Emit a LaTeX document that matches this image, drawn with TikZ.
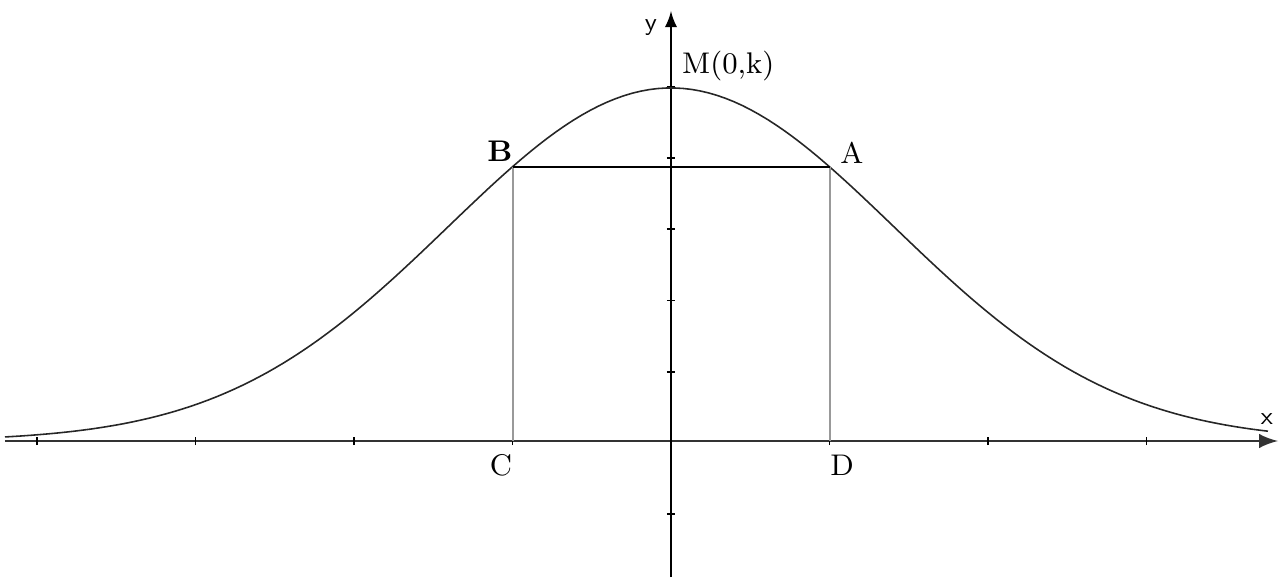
\documentclass[tikz,border=0pt]{standalone}
\usepackage{amsmath}
\usepackage{tikz}
\usetikzlibrary{arrows,positioning,calc}

\begin{document}
\begin{tikzpicture}[
    axis/.style={->, >=latex, line width=0.8pt},
    curve/.style={black!85, line width=0.45pt},
    side/.style={black!40, line width=0.6pt},
    tick/.style={line width=0.5pt},
    lbl/.style={font=\fontsize{8.5}{10}\selectfont, inner sep=1pt},
    axlbl/.style={font=\sffamily\scriptsize, inner sep=1pt}
]
    \useasboundingbox (-6.71,-1.36) rectangle (6.10,4.41);

    % Axes
    \coordinate (O) at (0,0);
    \coordinate (xs) at (-6.66,0);
    \coordinate (xe) at (6.07,0);
    \coordinate (ys) at (0,-1.36);
    \coordinate (ye) at (0,4.30);
    \draw[axis, black!80, line width=0.85pt] (xs) -- (xe);
    \draw[axis, line width=0.6pt] (ys) -- (ye);
    \node[axlbl] (xlbl) at (5.96,0.22) {x};
    \node[axlbl] (ylbl) at (-0.20,4.13) {y};

    % Ticks
    \foreach \k in {-4,-3,-2,-1,1,2,3}
        \draw[tick] (\k*1.585,-0.04) -- (\k*1.585,0.04);
    \foreach \k in {-1,1,2,3,4,5}
        \draw[tick] (-0.04,\k*0.713-0.02) -- (0.04,\k*0.713-0.02);

    % Bell curve
    \draw[curve] plot[domain=-6.66:5.97, samples=150] (\x, {3.53*exp(-((\x)^2)/9.946)});

    % Rectangle ABCD
    \coordinate (B) at (-1.58,2.74);
    \coordinate (A) at (1.59,2.74);
    \coordinate (C) at (-1.58,0);
    \coordinate (D) at (1.59,0);
    \draw[side] (B) -- (C);
    \draw[side] (A) -- (D);
    \draw[line width=0.6pt] (B) -- (A);

    % Labels
    \node[lbl, font=\fontsize{8.5}{10}\selectfont\bfseries] (Blbl) at (-1.71,2.90) {B};
    \node[lbl] (Albl) at (1.81,2.88) {A};
    \node[lbl] (Clbl) at (-1.70,-0.24) {C};
    \node[lbl] (Dlbl) at (1.71,-0.24) {D};
    \node[lbl, anchor=west] (Mlbl) at (0.07,3.75) {M(0,k)};
\end{tikzpicture}
\end{document}
